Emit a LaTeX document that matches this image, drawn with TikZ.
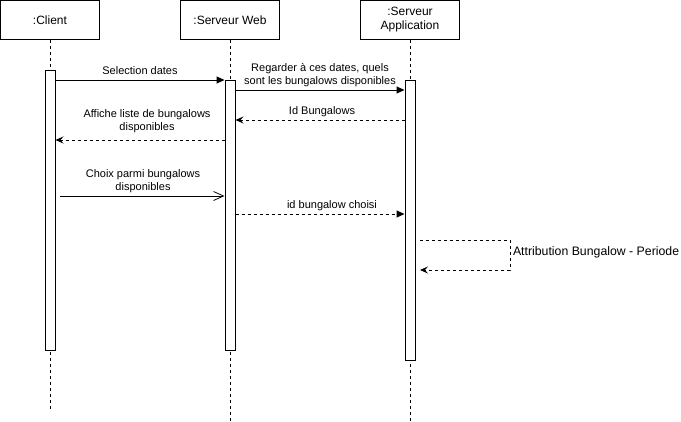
\documentclass[tikz,border=0pt]{standalone}
\usepackage{fontspec}
\setmainfont{Liberation Sans}
\usetikzlibrary{arrows.meta}
\begin{document}
\begin{tikzpicture}[x=1pt,y=-1pt, line width=1pt,
  obj/.style={draw, minimum width=99pt, minimum height=39pt, align=center,
              font=\fontsize{12}{14}\selectfont, inner sep=0pt},
  act/.style={draw, fill=white, minimum width=10pt, inner sep=0pt},
  life/.style={dashed, line width=0.8pt},
  sync/.style={-{Triangle[length=8pt,width=7pt]}},
  async/.style={-{Straight Barb[length=10pt,width=9pt,line width=0.8pt]}},
  reply/.style={dashed, -{Stealth[length=8pt,width=7pt,inset=3pt]}},
  fwd/.style={dashed, -{Triangle[length=8pt,width=7pt]}},
  lbl/.style={font=\fontsize{11}{13}\selectfont, align=center, inner sep=0pt}
]
\useasboundingbox (0,0) rectangle (681,421);

% participants
\node[obj] (client) at (50,20) {:Client};
\node[obj] (web) at (230,20) {:Serveur Web};
\node[obj] (app) at (410,20) {:Serveur\\Application};

% lifelines
\coordinate (clientEnd) at (50,410);
\coordinate (webEnd) at (230,421);
\coordinate (appEnd) at (410,421);
\draw[life] (client.south) -- (clientEnd);
\draw[life] (web.south) -- (webEnd);
\draw[life] (app.south) -- (appEnd);

% activation bars
\node[act, minimum height=280pt] (ca) at (50,210) {};
\node[act, minimum height=270pt] (wa) at (230,215) {};
\node[act, minimum height=280pt] (aa) at (410,220) {};

% messages
\draw[sync] (ca.east |- 0,80) -- (wa.west |- 0,80);
\node[lbl] (m1) at (140,71) {Selection dates};

\draw[sync] (wa.east |- 0,90) -- (aa.west |- 0,90);
\node[lbl] (m2) at (320,75) {Regarder à ces dates, quels\\sont les bungalows disponibles};

\draw[reply] (aa.west |- 0,120) -- (wa.east |- 0,120);
\node[lbl] (m3) at (322,112) {Id Bungalows};

\draw[reply] (wa.west |- 0,140) -- (ca.east |- 0,140);
\node[lbl] (m4) at (147,121.5) {Affiche liste de bungalows\\disponibles};

\coordinate (c5) at (60,196);
\draw[async] (c5) -- (wa.west |- c5);
\node[lbl] (m5) at (143,181) {Choix parmi bungalows\\disponibles};

\draw[fwd] (wa.east |- 0,214) -- (aa.west |- 0,214);
\node[lbl] (m6) at (332,206) {id bungalow choisi};

% self call
\coordinate (s1) at (420,240);
\coordinate (s2) at (510,270);
\draw[reply] (s1) -| (s2) -- (s1 |- s2);
\node[anchor=west, font=\fontsize{12.3}{14}\selectfont, inner sep=0pt] (m7) at (512.5,252) {Attribution Bungalow - Periode};
\end{tikzpicture}
\end{document}
